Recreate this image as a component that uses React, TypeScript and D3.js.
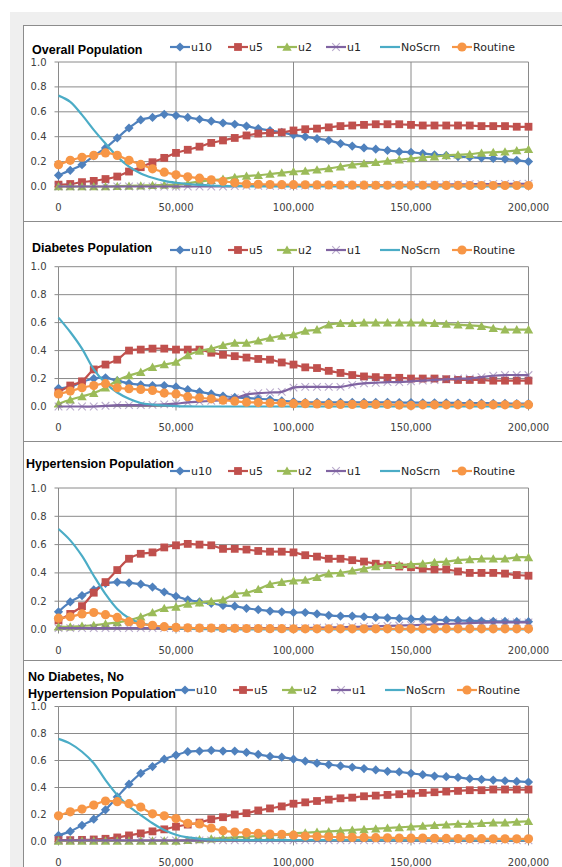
import React from 'react';
import * as d3 from 'd3';

// ---------- categories / ticks ----------
const xCats = [0,5000,10000,15000,20000,25000,30000,35000,40000,45000,50000,55000,60000,65000,70000,75000,80000,85000,90000,95000,100000,105000,110000,115000,120000,125000,130000,135000,140000,145000,150000,155000,160000,165000,170000,175000,180000,185000,190000,195000,200000];
const xTicks = [0, 50000, 100000, 150000, 200000];
const yTicks = [0, 0.2, 0.4, 0.6, 0.8, 1.0];
const seriesNames = ['u10', 'u5', 'u2', 'u1', 'NoScrn', 'Routine'];
const seriesColors = ['#4F81BD', '#C0504D', '#9BBB59', '#8064A2', '#4BACC6', '#F79646'];
const seriesMarkers = ['diamond', 'square', 'triangle', 'x', 'none', 'circle'];

// ---------- Overall Population ----------
const overallU10 = [0.09,0.13,0.175,0.245,0.31,0.39,0.47,0.535,0.555,0.58,0.57,0.555,0.54,0.525,0.51,0.50,0.485,0.465,0.45,0.435,0.415,0.40,0.385,0.37,0.345,0.325,0.31,0.30,0.29,0.28,0.275,0.265,0.255,0.25,0.24,0.235,0.23,0.225,0.22,0.21,0.20];
const overallU5 = [0.015,0.02,0.035,0.045,0.06,0.08,0.12,0.155,0.195,0.23,0.27,0.295,0.32,0.35,0.37,0.39,0.41,0.425,0.43,0.435,0.45,0.46,0.465,0.475,0.485,0.49,0.495,0.50,0.50,0.50,0.495,0.49,0.49,0.49,0.49,0.49,0.485,0.485,0.485,0.48,0.48];
const overallU2 = [0,0,0,0,0,0.003,0.005,0.007,0.01,0.012,0.015,0.025,0.04,0.05,0.06,0.075,0.085,0.09,0.10,0.11,0.12,0.125,0.135,0.145,0.16,0.175,0.185,0.195,0.205,0.215,0.225,0.235,0.24,0.25,0.255,0.26,0.27,0.275,0.28,0.29,0.30];
const overallU1 = [0,0,0,0,0,0,0,0,0,0,0,0,0,0,0,0.003,0.005,0.005,0.005,0.005,0.005,0.007,0.008,0.008,0.01,0.01,0.01,0.012,0.012,0.013,0.014,0.015,0.015,0.016,0.017,0.018,0.019,0.02,0.02,0.021,0.022];
const overallNoScrn = [0.73,0.68,0.575,0.455,0.345,0.24,0.16,0.105,0.07,0.045,0.03,0.02,0.013,0.008,0.005,0.003,0.002,0.001,0,0,0,0,0,0,0,0,0,0,0,0,0,0,0,0,0,0,0,0,0,0,0];
const overallRoutine = [0.175,0.21,0.235,0.25,0.27,0.25,0.21,0.177,0.142,0.115,0.094,0.078,0.067,0.054,0.042,0.03,0.02,0.018,0.016,0.015,0.015,0.014,0.013,0.012,0.012,0.011,0.011,0.01,0.01,0.01,0.01,0.01,0.009,0.009,0.009,0.008,0.008,0.008,0.008,0.008,0.008];

// ---------- Diabetes Population ----------
const diabU10 = [0.13,0.14,0.175,0.2,0.205,0.185,0.165,0.155,0.15,0.15,0.14,0.12,0.105,0.09,0.075,0.065,0.06,0.055,0.05,0.04,0.035,0.03,0.03,0.03,0.03,0.03,0.03,0.03,0.03,0.028,0.028,0.027,0.027,0.026,0.025,0.025,0.024,0.023,0.022,0.021,0.02];
const diabU5 = [0.10,0.15,0.18,0.265,0.30,0.335,0.40,0.407,0.414,0.414,0.407,0.407,0.407,0.385,0.37,0.36,0.35,0.34,0.335,0.315,0.30,0.28,0.275,0.255,0.24,0.225,0.215,0.21,0.205,0.205,0.20,0.20,0.20,0.195,0.19,0.19,0.19,0.185,0.185,0.185,0.185];
const diabU2 = [0.02,0.048,0.072,0.096,0.134,0.187,0.222,0.246,0.282,0.30,0.318,0.366,0.397,0.414,0.438,0.455,0.455,0.47,0.49,0.505,0.515,0.54,0.55,0.585,0.595,0.595,0.60,0.60,0.60,0.60,0.60,0.60,0.595,0.59,0.585,0.58,0.575,0.56,0.55,0.55,0.55];
const diabU1 = [0,0,0,0,0.005,0.01,0.01,0.01,0.012,0.015,0.02,0.03,0.035,0.04,0.045,0.06,0.085,0.095,0.10,0.105,0.135,0.14,0.14,0.14,0.14,0.155,0.165,0.17,0.175,0.175,0.18,0.185,0.19,0.195,0.20,0.20,0.21,0.22,0.225,0.225,0.225];
const diabNoScrn = [0.636,0.533,0.414,0.265,0.167,0.10,0.055,0.025,0.014,0.007,0.003,0.001,0,0,0,0,0,0,0,0,0,0,0,0,0,0,0,0,0,0,0,0,0,0,0,0,0,0,0,0,0];
const diabRoutine = [0.09,0.11,0.134,0.15,0.163,0.134,0.127,0.122,0.115,0.096,0.09,0.07,0.062,0.055,0.045,0.038,0.031,0.028,0.025,0.025,0.02,0.02,0.018,0.015,0.015,0.015,0.015,0.015,0.015,0.01,0.008,0.012,0.012,0.012,0.012,0.012,0.012,0.012,0.012,0.013,0.013];

// ---------- Hypertension Population ----------
const hypU10 = [0.125,0.195,0.24,0.28,0.325,0.335,0.33,0.32,0.30,0.265,0.235,0.21,0.195,0.185,0.17,0.165,0.15,0.14,0.13,0.125,0.12,0.12,0.11,0.10,0.095,0.095,0.09,0.085,0.082,0.078,0.075,0.073,0.07,0.066,0.064,0.062,0.06,0.058,0.057,0.055,0.055];
const hypU5 = [0.065,0.11,0.165,0.26,0.335,0.42,0.50,0.535,0.545,0.58,0.595,0.605,0.60,0.595,0.57,0.57,0.565,0.555,0.55,0.55,0.545,0.525,0.515,0.50,0.50,0.49,0.48,0.465,0.455,0.445,0.44,0.43,0.425,0.425,0.41,0.40,0.40,0.40,0.395,0.385,0.38];
const hypU2 = [0.02,0.02,0.025,0.03,0.04,0.05,0.066,0.09,0.12,0.15,0.16,0.18,0.19,0.20,0.21,0.25,0.26,0.285,0.32,0.335,0.345,0.35,0.37,0.395,0.40,0.415,0.43,0.445,0.455,0.455,0.46,0.465,0.475,0.48,0.49,0.495,0.50,0.50,0.50,0.51,0.51];
const hypU1 = [0.01,0.01,0.01,0.01,0.01,0.01,0.01,0.01,0.01,0.01,0.01,0.01,0.01,0.01,0.01,0.01,0.01,0.01,0.01,0.01,0.01,0.01,0.012,0.014,0.016,0.018,0.02,0.022,0.025,0.028,0.03,0.033,0.036,0.039,0.042,0.045,0.048,0.05,0.05,0.05,0.05];
const hypNoScrn = [0.71,0.63,0.52,0.38,0.25,0.145,0.08,0.045,0.028,0.018,0.01,0.006,0.003,0.002,0.001,0,0,0,0,0,0,0,0,0,0,0,0,0,0,0,0,0,0,0,0,0,0,0,0,0,0];
const hypRoutine = [0.08,0.09,0.11,0.12,0.105,0.085,0.055,0.04,0.03,0.02,0.015,0.012,0.01,0.01,0.008,0.008,0.007,0.007,0.006,0.006,0.005,0.005,0.005,0.005,0.005,0.005,0.005,0.005,0.005,0.005,0.005,0.005,0.005,0.005,0.005,0.005,0.005,0.005,0.005,0.005,0.005];

// ---------- No Diabetes, No Hypertension Population ----------
const noneU10 = [0.045,0.075,0.12,0.165,0.235,0.33,0.425,0.505,0.555,0.61,0.64,0.665,0.67,0.675,0.67,0.67,0.66,0.645,0.63,0.625,0.61,0.595,0.58,0.57,0.56,0.55,0.54,0.53,0.52,0.515,0.505,0.495,0.485,0.48,0.475,0.465,0.46,0.455,0.45,0.445,0.44];
const noneU5 = [0.01,0.01,0.012,0.015,0.02,0.03,0.045,0.06,0.075,0.09,0.11,0.125,0.14,0.165,0.18,0.20,0.21,0.23,0.245,0.26,0.28,0.29,0.30,0.31,0.32,0.325,0.335,0.34,0.345,0.35,0.355,0.36,0.365,0.37,0.375,0.38,0.38,0.385,0.385,0.385,0.385];
const noneU2 = [0.005,0.005,0.005,0.005,0.005,0.005,0.005,0.005,0.005,0.005,0.005,0.01,0.015,0.02,0.025,0.03,0.035,0.04,0.045,0.05,0.06,0.065,0.07,0.075,0.08,0.085,0.09,0.095,0.10,0.105,0.11,0.115,0.12,0.125,0.13,0.13,0.135,0.14,0.14,0.145,0.15];
const noneU1 = [0.008,0.008,0.008,0.008,0.008,0.008,0.008,0.008,0.008,0.008,0.008,0.008,0.008,0.008,0.008,0.008,0.008,0.008,0.008,0.008,0.008,0.008,0.008,0.008,0.008,0.008,0.008,0.008,0.008,0.008,0.008,0.008,0.008,0.008,0.008,0.008,0.008,0.008,0.008,0.008,0.008];
const noneNoScrn = [0.76,0.725,0.665,0.58,0.455,0.345,0.26,0.195,0.135,0.085,0.05,0.03,0.02,0.014,0.012,0.011,0.01,0.01,0.01,0.01,0.01,0.01,0.01,0.01,0.01,0.01,0.01,0.01,0.01,0.01,0.01,0.01,0.01,0.01,0.01,0.01,0.01,0.01,0.01,0.01,0.01];
const noneRoutine = [0.19,0.22,0.24,0.27,0.30,0.295,0.28,0.255,0.205,0.19,0.17,0.135,0.13,0.10,0.08,0.07,0.065,0.06,0.055,0.053,0.047,0.04,0.037,0.035,0.032,0.03,0.03,0.028,0.027,0.026,0.025,0.025,0.024,0.023,0.022,0.022,0.021,0.02,0.02,0.02,0.02];

const panelTitles = [
  ['Overall Population'],
  ['Diabetes Population'],
  ['Hypertension Population'],
  ['No Diabetes, No', 'Hypertension Population'],
];
const panelSeries = [
  [overallU10, overallU5, overallU2, overallU1, overallNoScrn, overallRoutine],
  [diabU10, diabU5, diabU2, diabU1, diabNoScrn, diabRoutine],
  [hypU10, hypU5, hypU2, hypU1, hypNoScrn, hypRoutine],
  [noneU10, noneU5, noneU2, noneU1, noneNoScrn, noneRoutine],
];

// layout (pixels)
const layout = [
  { top: 62, bottom: 186.5, titleX: 32, titleY: [54], legendY: 47, legendShift: 0 },
  { top: 266.7, bottom: 406.5, titleX: 32, titleY: [252], legendY: 250, legendShift: 0 },
  { top: 488, bottom: 629.5, titleX: 26, titleY: [468], legendY: 471, legendShift: 0 },
  { top: 706.5, bottom: 841.5, titleX: 28, titleY: [681, 698], legendY: 690, legendShift: 5 },
];
const legendStarts = [170, 228, 277, 326, 380, 452];
const X0 = 58.5, X1 = 528.5;
const GRID = '#8a8a8a';
const FONT = '"DejaVu Sans", sans-serif';

function Marker({ kind, color, x, y }: { kind: string; color: string; x: number; y: number }) {
  const t = `translate(${x},${y})`;
  if (kind === 'diamond') return <path transform={t} d="M0,-4.6L4.6,0L0,4.6L-4.6,0Z" fill={color} />;
  if (kind === 'square') return <rect transform={t} x={-3.9} y={-3.9} width={7.8} height={7.8} fill={color} />;
  if (kind === 'triangle') return <path transform={t} d="M0,-4.5L4.7,3.8L-4.7,3.8Z" fill={color} />;
  if (kind === 'circle') return <circle transform={t} r={4.6} fill={color} />;
  if (kind === 'x') return <path transform={t} d="M-3.8,-3.8L3.8,3.8M-3.8,3.8L3.8,-3.8" stroke={color} strokeOpacity={0.55} strokeWidth={1.1} fill="none" />;
  return null;
}

function Panel({ idx }: { idx: number }) {
  const L = layout[idx];
  const x = d3.scaleLinear().domain([0, 200000]).range([X0, X1]);
  const y = d3.scaleLinear().domain([0, 1]).range([L.bottom, L.top]);
  const line = d3.line<number>()
    .x((_, i) => x(xCats[i]))
    .y((d) => y(d))
    .curve(d3.curveCatmullRom.alpha(0.5));
  const fmtX = d3.format(',');
  return (
    <g>
      {yTicks.map((t) => (
        <line key={'gy' + t} x1={X0} x2={X1} y1={y(t)} y2={y(t)} stroke={GRID} strokeWidth={1} />
      ))}
      {xTicks.map((t) => (
        <line key={'gx' + t} x1={x(t)} x2={x(t)} y1={L.top} y2={L.bottom} stroke={GRID} strokeWidth={1} />
      ))}
      {yTicks.map((t) => (
        <line key={'ty' + t} x1={X0 - 4} x2={X0} y1={y(t)} y2={y(t)} stroke={GRID} />
      ))}
      {xTicks.map((t) => (
        <line key={'tx' + t} x1={x(t)} x2={x(t)} y1={L.bottom} y2={L.bottom + 4} stroke={GRID} />
      ))}
      {yTicks.map((t) => (
        <text key={'ly' + t} x={X0 - 12} y={y(t)} dy="0.35em" textAnchor="end" fontFamily={FONT} fontSize={10} fill="#404040">
          {t.toFixed(1)}
        </text>
      ))}
      {xTicks.map((t) => (
        <text key={'lx' + t} x={x(t)} y={L.bottom + 24.5} textAnchor="middle" fontFamily={FONT} fontSize={10} fill="#404040">
          {fmtX(t)}
        </text>
      ))}
      {panelSeries[idx].map((vals, si) => (
        <g key={'s' + si}>
          <path d={line(vals) || ''} fill="none" stroke={seriesColors[si]} strokeWidth={2.2} />
          {seriesMarkers[si] !== 'none' &&
            vals.map((v, i) => (
              <Marker key={i} kind={seriesMarkers[si]} color={seriesColors[si]} x={x(xCats[i])} y={y(v)} />
            ))}
        </g>
      ))}
      {panelTitles[idx].map((t, k) => (
        <text key={'t' + k} x={L.titleX} y={L.titleY[k]} fontFamily='"Liberation Sans", Arial, sans-serif' fontWeight="bold" fontSize={12.5} fill="#000">
          {t}
        </text>
      ))}
      {seriesNames.map((name, si) => {
        const sx = legendStarts[si] + L.legendShift;
        return (
          <g key={'lg' + si}>
            <line x1={sx} x2={sx + 20} y1={L.legendY} y2={L.legendY} stroke={seriesColors[si]} strokeWidth={2.2} />
            <Marker kind={seriesMarkers[si]} color={seriesColors[si]} x={sx + 10} y={L.legendY} />
            <text x={sx + 21} y={L.legendY} dy="0.35em" fontFamily={FONT} fontSize={11} fill="#262626">
              {name}
            </text>
          </g>
        );
      })}
    </g>
  );
}

export default function App() {
  return (
    <svg width={562} height={867} style={{ position: 'absolute', left: 0, top: 0, display: 'block' }}>
      <rect x={0} y={0} width={562} height={867} fill="#ffffff" />
      <rect x={10} y={12} width={560} height={870} fill="#efefef" />
      <rect x={23.5} y={25.5} width={560} height={860} fill="#ffffff" stroke="#8c8c8c" strokeWidth={1} />
      {[221.5, 441.5, 660.5].map((yy) => (
        <line key={yy} x1={23.5} x2={562} y1={yy} y2={yy} stroke="#8c8c8c" strokeWidth={1} />
      ))}
      {[0, 1, 2, 3].map((i) => (
        <Panel key={i} idx={i} />
      ))}
    </svg>
  );
}
